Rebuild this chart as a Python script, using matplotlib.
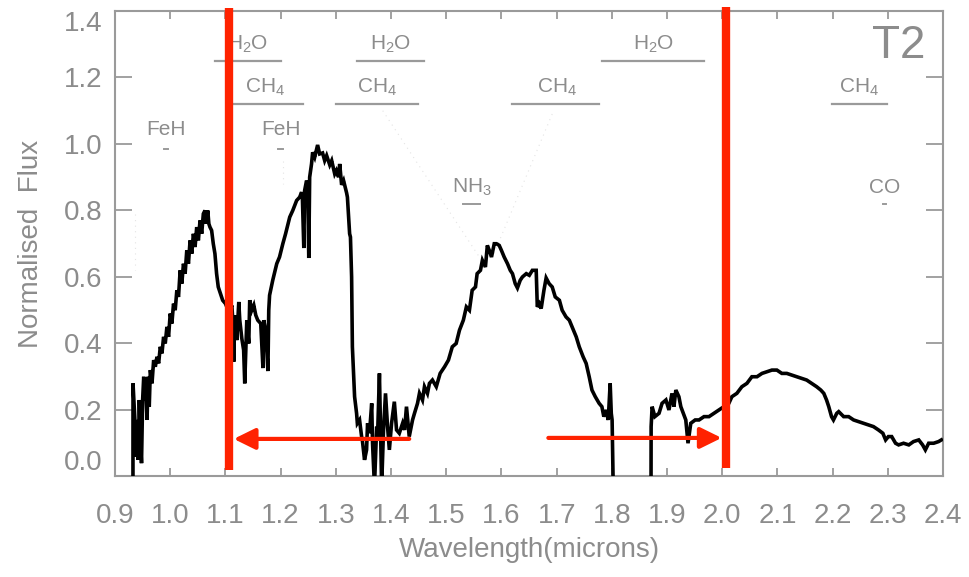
import matplotlib
matplotlib.use("Agg")
import matplotlib.pyplot as plt

# ---------------- data ----------------
wavelength = [
    0.9325, 0.9326, 0.936, 0.938, 0.940, 0.942, 0.944, 0.946, 0.948, 0.950, 0.952, 0.954, 0.956, 0.958,
    0.960, 0.962, 0.964, 0.967, 0.970, 0.973, 0.976, 0.979, 0.982, 0.985, 0.988, 0.991, 0.994, 0.997,
    1.000, 1.003, 1.006, 1.009, 1.012, 1.015, 1.018, 1.021, 1.024, 1.027, 1.030, 1.033, 1.036, 1.039,
    1.042, 1.045, 1.048, 1.051, 1.054, 1.057, 1.060, 1.063, 1.065, 1.068, 1.070, 1.072, 1.075, 1.078,
    1.081, 1.084, 1.087, 1.090, 1.095, 1.100, 1.105, 1.108,
    1.1116, 1.1134, 1.115, 1.117, 1.1206, 1.1242, 1.126, 1.1297, 1.133, 1.135, 1.1387, 1.1423, 1.144,
    1.1477, 1.1514, 1.155, 1.1586, 1.164, 1.168, 1.1694, 1.173, 1.177, 1.1785, 1.180, 1.1857, 1.193,
    1.198, 1.204, 1.209, 1.2165, 1.222, 1.229, 1.2345, 1.238, 1.2394, 1.242, 1.2435, 1.247, 1.249,
    1.251, 1.2526, 1.256, 1.258, 1.2617, 1.267, 1.2707, 1.276, 1.2798, 1.2834, 1.289, 1.2925, 1.298,
    1.301, 1.305, 1.307, 1.3105, 1.314, 1.3195, 1.321, 1.325, 1.3265, 1.3286,
    1.330, 1.334, 1.3376, 1.339, 1.343, 1.3467, 1.348, 1.352, 1.3557, 1.3575, 1.361, 1.365, 1.3665,
    1.370, 1.374, 1.3756, 1.379, 1.381, 1.383, 1.3864, 1.390, 1.3937, 1.397, 1.401, 1.406, 1.410,
    1.415, 1.421, 1.4245, 1.428, 1.433, 1.439, 1.4425, 1.448, 1.4515, 1.457, 1.4606, 1.466, 1.4696,
    1.475, 1.482, 1.489, 1.497, 1.504, 1.511, 1.518, 1.524, 1.531, 1.5365, 1.542, 1.547, 1.553,
    1.556, 1.562, 1.5655, 1.571, 1.5745, 1.578, 1.582, 1.587, 1.591, 1.596, 1.600, 1.605, 1.611,
    1.616, 1.620, 1.625, 1.629, 1.634, 1.638, 1.645, 1.6505, 1.656, 1.663, 1.665, 1.6685, 1.672,
    1.677, 1.681, 1.6864, 1.692, 1.6975, 1.705, 1.710, 1.717, 1.723, 1.728, 1.7355, 1.741, 1.748,
    1.7535, 1.759, 1.764, 1.770, 1.777, 1.782, 1.7855, 1.790, 1.7935, 1.797, 1.799, 1.8005, 1.8025,
    1.871, 1.8712, 1.873, 1.878, 1.8855, 1.891, 1.898, 1.9035, 1.909, 1.9125, 1.916, 1.9215, 1.925,
    1.934, 1.938, 1.943, 1.951, 1.958, 1.967, 1.976, 1.985, 1.994, 2.003, 2.012, 2.0175, 2.0265,
    2.0356, 2.0447, 2.0537, 2.063, 2.072, 2.081, 2.090, 2.099, 2.108, 2.117, 2.126, 2.135, 2.144,
    2.153, 2.162, 2.171, 2.1785, 2.184, 2.189, 2.193, 2.198, 2.2015, 2.2075, 2.211, 2.220, 2.229,
    2.238, 2.247, 2.256, 2.2655, 2.274, 2.283, 2.291, 2.296, 2.301, 2.307, 2.314, 2.3195, 2.3285,
    2.338, 2.3465, 2.356, 2.363, 2.368, 2.374, 2.383, 2.392, 2.397,
]
flux = [
    -0.03, 0.28, 0.17, 0.06, 0.17, 0.05, 0.23, 0.11, 0.04, 0.23, 0.30, 0.23, 0.26, 0.17,
    0.30, 0.21, 0.32, 0.28, 0.35, 0.33, 0.36, 0.34, 0.39, 0.37, 0.42, 0.40, 0.45, 0.42,
    0.49, 0.46, 0.52, 0.50, 0.56, 0.54, 0.62, 0.58, 0.64, 0.61, 0.68, 0.64, 0.71, 0.67,
    0.73, 0.69, 0.75, 0.71, 0.77, 0.73, 0.79, 0.80, 0.76, 0.80, 0.76, 0.75, 0.74, 0.70,
    0.67, 0.61, 0.57, 0.555, 0.53, 0.52, 0.50, 0.50,
    0.515, 0.47, 0.345, 0.485, 0.41, 0.525, 0.47, 0.415, 0.38, 0.28, 0.47, 0.40, 0.53,
    0.50, 0.515, 0.485, 0.47, 0.46, 0.326, 0.47, 0.44, 0.317, 0.50, 0.545, 0.59, 0.64,
    0.66, 0.70, 0.73, 0.78, 0.80, 0.83, 0.84, 0.855, 0.84, 0.687, 0.86, 0.89, 0.88,
    0.657, 0.90, 0.94, 0.975, 0.96, 0.997, 0.97, 0.973, 0.95, 0.965, 0.937, 0.95, 0.91,
    0.92, 0.90, 0.94, 0.877, 0.89, 0.853, 0.84, 0.73, 0.72, 0.60,
    0.39, 0.24, 0.19, 0.16, 0.17, 0.12, 0.11, 0.05, 0.08, 0.16, 0.13, 0.22, 0.10,
    -0.03, 0.15, 0.12, 0.31, 0.14, -0.03, 0.14, 0.25, 0.15, 0.08, 0.16, 0.225, 0.14,
    0.13, 0.16, 0.14, 0.21, 0.12, 0.17, 0.19, 0.22, 0.25, 0.23, 0.27, 0.25, 0.28,
    0.29, 0.27, 0.31, 0.33, 0.35, 0.39, 0.40, 0.44, 0.47, 0.51, 0.50, 0.56, 0.57,
    0.61, 0.62, 0.65, 0.63, 0.695, 0.68, 0.66, 0.70, 0.70, 0.695, 0.68, 0.66, 0.64,
    0.62, 0.61, 0.58, 0.567, 0.59, 0.60, 0.61, 0.605, 0.62, 0.62, 0.51, 0.52, 0.505,
    0.56, 0.597, 0.58, 0.57, 0.54, 0.53, 0.50, 0.48, 0.47, 0.45, 0.42, 0.39, 0.36,
    0.34, 0.30, 0.26, 0.24, 0.22, 0.21, 0.18, 0.20, 0.17, 0.28, 0.19, 0.17, -0.03,
    -0.03, 0.15, 0.21, 0.18, 0.19, 0.22, 0.23, 0.20, 0.25, 0.21, 0.26, 0.24, 0.21,
    0.17, 0.10, 0.16, 0.17, 0.17, 0.18, 0.18, 0.19, 0.20, 0.21, 0.22, 0.24, 0.25,
    0.27, 0.28, 0.30, 0.30, 0.31, 0.315, 0.32, 0.32, 0.31, 0.31, 0.305, 0.30, 0.295,
    0.29, 0.28, 0.27, 0.26, 0.25, 0.23, 0.21, 0.18, 0.17, 0.19, 0.195, 0.18, 0.18,
    0.17, 0.165, 0.16, 0.155, 0.15, 0.14, 0.13, 0.11, 0.12, 0.12, 0.10, 0.095, 0.10,
    0.095, 0.105, 0.11, 0.095, 0.08, 0.10, 0.10, 0.105, 0.11,
]

x_ticks = [0.9, 1.0, 1.1, 1.2, 1.3, 1.4, 1.5, 1.6, 1.7, 1.8, 1.9, 2.0, 2.1, 2.2, 2.3, 2.4]
y_ticks = [0.0, 0.2, 0.4, 0.6, 0.8, 1.0, 1.2, 1.4]

# band labels: text, x centre, text y, bar x start, bar x end, bar y
band_labels = ["H$_2$O", "CH$_4$", "H$_2$O", "CH$_4$", "CH$_4$", "H$_2$O", "CH$_4$"]
band_text_x = [1.140, 1.171, 1.399, 1.374, 1.700, 1.875, 2.247]
band_text_y = [1.30, 1.17, 1.30, 1.17, 1.17, 1.30, 1.17]
band_start = [1.081, 1.112, 1.339, 1.300, 1.620, 1.782, 2.198]
band_end = [1.200, 1.240, 1.459, 1.448, 1.777, 1.967, 2.298]
band_bar_y = [1.25, 1.12, 1.25, 1.12, 1.12, 1.25, 1.12]

# point labels: text, x, text y, mark y, mark half width
point_labels = ["FeH", "FeH", "NH$_3$", "CO"]
point_x = [0.992, 1.200, 1.546, 2.294]
point_text_y = [1.045, 1.045, 0.87, 0.87]
point_mark_y = [0.985, 0.985, 0.82, 0.82]
point_mark_hw = [0.004, 0.004, 0.016, 0.003]

# faint dotted guide lines
guide_x0 = [1.385, 1.692, 0.936, 1.204]
guide_y0 = [1.10, 1.09, 0.79, 0.95]
guide_x1 = [1.560, 1.584, 0.936, 1.204]
guide_y1 = [0.66, 0.66, 0.62, 0.88]

red_lines_x = [1.106, 2.007]
red_lines_y0 = [0.02, 0.026]
red_lines_y1 = [1.41, 1.412]
arrow_from = [(1.433, 0.113), (1.685, 0.116)]
arrow_to = [(1.115, 0.113), (1.999, 0.116)]

# ---------------- style ----------------
FONT = ["Liberation Sans Narrow", "Liberation Sans", "DejaVu Sans"]
plt.rcParams["font.family"] = FONT
plt.rcParams["mathtext.fontset"] = "custom"
plt.rcParams["mathtext.rm"] = "Liberation Sans"
plt.rcParams["mathtext.it"] = "Liberation Sans"
GRAY = "#8c8c8c"
LGRAY = "#9a9a9a"
RED = "#ff2200"

fig = plt.figure(figsize=(9.69, 5.77), dpi=100)
ax = fig.add_axes([0.1187, 0.1742, 0.8545, 0.8068])

ax.plot(wavelength, flux, color="black", lw=2.6, solid_joinstyle="miter", zorder=3)

ax.set_xlim(0.9, 2.4)
ax.set_ylim(0.0, 1.4)
ax.set_xticks(x_ticks)
ax.set_xticklabels([f"{v:.1f}" for v in x_ticks])
ax.set_yticks(y_ticks)
ax.set_yticklabels([f"{v:.1f}" for v in y_ticks])

for s in ax.spines.values():
    s.set_color(LGRAY)
    s.set_linewidth(1.5)

ax.tick_params(axis="x", which="major", direction="in", length=6, width=1.3,
               colors=LGRAY, labelcolor=GRAY, labelsize=20, pad=19, top=True)
ax.tick_params(axis="y", which="major", direction="in", length=12, width=1.3,
               colors=LGRAY, labelcolor=GRAY, labelsize=20, pad=9, right=True)

ylabs = ax.get_yticklabels()
ylabs[0].set_va("bottom")
ylabs[-1].set_va("top")

ax.set_xlabel("Wavelength(microns)", color=GRAY, fontsize=20, labelpad=6)
ax.set_ylabel("Normalised  Flux", color=GRAY, fontsize=20, labelpad=14)

for x0, y0, x1, y1 in zip(guide_x0, guide_y0, guide_x1, guide_y1):
    ax.plot([x0, x1], [y0, y1], color="#e4e4e4", lw=0.8, ls=(0, (1, 4)), zorder=1)

for lab, tx, ty, b0, b1, by in zip(band_labels, band_text_x, band_text_y,
                                    band_start, band_end, band_bar_y):
    ax.text(tx, ty, lab, color=GRAY, fontsize=15, ha="center", va="center")
    ax.plot([b0, b1], [by, by], color=LGRAY, lw=1.6, zorder=2)

for lab, px, ty, my, hw in zip(point_labels, point_x, point_text_y,
                               point_mark_y, point_mark_hw):
    ax.text(px, ty, lab, color=GRAY, fontsize=15, ha="center", va="center")
    ax.plot([px - hw, px + hw], [my, my], color=LGRAY, lw=1.4, zorder=2)

ax.text(2.368, 1.295, "T2", color=GRAY, fontsize=33, ha="right", va="center")

for x, y0, y1 in zip(red_lines_x, red_lines_y0, red_lines_y1):
    ax.plot([x, x], [y0, y1], color=RED, lw=6, solid_capstyle="butt",
            clip_on=False, zorder=5)

for a, b in zip(arrow_from, arrow_to):
    ax.annotate("", xy=b, xytext=a,
                arrowprops=dict(arrowstyle="-|>,head_length=0.65,head_width=0.32",
                                color=RED, lw=3, mutation_scale=20,
                                shrinkA=0, shrinkB=0),
                zorder=6)

fig.savefig("out.png", dpi=100)
